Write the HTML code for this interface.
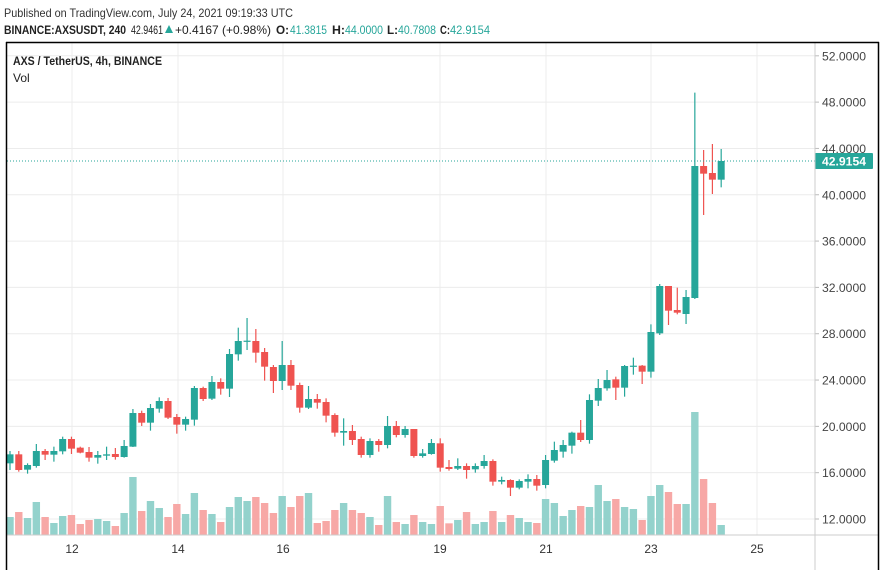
<!DOCTYPE html>
<html><head><meta charset="utf-8"><style>
html,body{margin:0;padding:0;background:#fff;width:886px;height:570px;overflow:hidden}
svg{display:block;font-family:"Liberation Sans",sans-serif}
</style></head><body>
<svg id="s" width="886" height="570" xmlns="http://www.w3.org/2000/svg">
<rect width="886" height="570" fill="#fff"/>
<text x="4" y="17" font-size="12" fill="#333" textLength="289" lengthAdjust="spacingAndGlyphs">Published on TradingView.com, July 24, 2021 09:19:33 UTC</text>
<text x="4" y="34" font-size="12" font-weight="bold" fill="#222" textLength="122" lengthAdjust="spacingAndGlyphs">BINANCE:AXSUSDT, 240</text>
<text x="131" y="34" font-size="12" fill="#222" textLength="32" lengthAdjust="spacingAndGlyphs">42.9461</text>
<polygon points="165,33 173,33 169,25" fill="#26a69a"/>
<text x="175" y="34" font-size="12" fill="#222" textLength="96" lengthAdjust="spacingAndGlyphs">+0.4167 (+0.98%)</text>
<text x="276" y="34" font-size="12" font-weight="bold" fill="#222" textLength="13" lengthAdjust="spacingAndGlyphs">O:</text>
<text x="290" y="34" font-size="12" fill="#26a69a" textLength="37" lengthAdjust="spacingAndGlyphs">41.3815</text>
<text x="332" y="34" font-size="12" font-weight="bold" fill="#222" textLength="13" lengthAdjust="spacingAndGlyphs">H:</text>
<text x="345" y="34" font-size="12" fill="#26a69a" textLength="38" lengthAdjust="spacingAndGlyphs">44.0000</text>
<text x="387" y="34" font-size="12" font-weight="bold" fill="#222" textLength="11" lengthAdjust="spacingAndGlyphs">L:</text>
<text x="398" y="34" font-size="12" fill="#26a69a" textLength="38" lengthAdjust="spacingAndGlyphs">40.7808</text>
<text x="440" y="34" font-size="12" font-weight="bold" fill="#222" textLength="10" lengthAdjust="spacingAndGlyphs">C:</text>
<text x="450" y="34" font-size="12" fill="#26a69a" textLength="40" lengthAdjust="spacingAndGlyphs">42.9154</text>
<g id="g"></g>
</svg>
<script>
var s=document.getElementById('g'),h='';
function py(p){return 519-(p-12)*11.58;}
// grid
for(var p=12;p<=52;p+=4){var y=py(p);h+='<line x1="7" x2="815" y1="'+y+'" y2="'+y+'" stroke="#ececec"/>';
h+='<line x1="815" x2="819" y1="'+y+'" y2="'+y+'" stroke="#bbb"/>';
h+='<text x="822" y="'+(y+4.5)+'" font-size="12" fill="#444" textLength="44" lengthAdjust="spacingAndGlyphs">'+p.toFixed(4).padStart(7,'0').replace(/^0/,'')+'</text>';}
var days=[[72,'12'],[178,'14'],[283,'16'],[440,'19'],[546,'21'],[651,'23'],[757,'25']];
days.forEach(function(d){h+='<line x1="'+d[0]+'" x2="'+d[0]+'" y1="43" y2="535" stroke="#ececec"/>';
h+='<text x="'+d[0]+'" y="553" font-size="12" fill="#333" text-anchor="middle">'+d[1]+'</text>';});
var A=[['g',403,430,393,450],['r',403,450,393,455],['g',435,449,430,461],['g',393,438,372,443],['r',393,404,387,420],['g',393,404,380,425],['g',357,394,350,403],['r',357,386,350,402],['r',383,398,380,400],['r',396,413,381,425],['g',405,413,393,431],['g',403,407,380,420],['r',402,411,384,419],['g',378,411,360,413],['g',279,380,267,381],['r',279,308,272,318],['g',264,308,252,332],['g',243,266,232,278],['r',243,293,234,297],['r',291,314,282,341],['g',297,314,290,332],['g',204,299,198,317],['r',204,237,200,243],['g',186,236,168,240],['r',186,206,175,224],['g',102,206,87,231],['g',63,103,23,122],['g',62,65,-6,90],['r',63,98,27,128],['r',96,140,84,182],['r',141,183,135,219],['g',135,183,63,210],['r',135,197,120,210],['r',195,263,188,278],['g',237,263,198,267],['r',237,248,222,266],['r',246,287,235,307],['r',285,338,280,350],['g',333,338,295,377],['r',333,360,315,375],['r',357,405,350,413],['g',363,405,355,413],['r',363,375,357,395],['g',318,375,288,385],['r',318,345,303,352],['g',327,345,318,353],['r',327,408,327,413],['g',400,408,387,413],['g',369,402,357,404]];
var B=[['r',1090,1163,1075,1175],['r',1161,1167,1140,1172],['g',1158,1166,1135,1170],['r',1158,1170,1150,1196],['g',1158,1168,1150,1178],['g',1143,1158,1125,1166],['r',1143,1205,1138,1217],['g',1200,1205,1190,1213],['r',1200,1223,1198,1248],['g',1203,1223,1198,1228],['g',1197,1205,1183,1225],['r',1197,1217,1185,1232],['g',1140,1215,1125,1225],['g',1110,1142,1085,1148],['g',1095,1115,1080,1133],['g',1058,1097,1055,1121],['r',1058,1080,1020,1086],['g',960,1080,943,1091],['g',924,962,897,978],['g',900,925,870,932],['r',898,923,890,960],['g',858,923,855,950],['g',857,860,833,884],['r',857,875,855,912],['g',756,875,733,893],['g',618,760,612,765],['r',618,692,618,735],['r',690,698,623,703],['g',651,702,630,732],['g',258,654,38,657],['r',258,281,210,405],['r',279,299,192,342],['g',243,299,207,322]];
var VA=[591,576,594,546,591,609,588,585,612,600,597,603,618,579,471,573,543,564,591,552,582,519,570,582,606,561,531,543,531,549,579,528,561,528,519,609,603,570,549,570,579,591,615,528,606,612,585,606,612];
var VB=[1278,1330,1320,1296,1332,1326,1293,1326,1305,1314,1326,1329,1257,1269,1308,1290,1278,1281,1215,1263,1257,1281,1287,1320,1248,1215,1236,1272,1272,996,1197,1269,1335];
var C=[];
A.forEach(function(c,i){C.push([c[0],320+c[1]/3,320+c[2]/3,320+c[3]/3,320+c[4]/3,320+VA[i]/3]);});
B.forEach(function(c,i){C.push([c[0],80+c[1]/3,80+c[2]/3,80+c[3]/3,80+c[4]/3,80+VB[i]/3]);});
C.forEach(function(c,i){var x=10+i*8.78,col=c[0]=='g'?'#26a69a':'#ef5350',vc=c[0]=='g'?'#93d2cc':'#f7a8a6';
h+='<rect x="'+(x-3.7)+'" y="'+c[5]+'" width="7.4" height="'+(535-c[5])+'" fill="'+vc+'"/>';});
C.forEach(function(c,i){var x=10+i*8.78,col=c[0]=='g'?'#26a69a':'#ef5350';
h+='<line x1="'+x+'" x2="'+x+'" y1="'+c[3]+'" y2="'+c[4]+'" stroke="'+col+'" stroke-width="1.2"/>';
h+='<rect x="'+(x-3.5)+'" y="'+c[1]+'" width="7" height="'+Math.max(1.2,c[2]-c[1])+'" fill="'+col+'"/>';});
h+='<line x1="7" x2="815" y1="161" y2="161" stroke="#26a69a" stroke-dasharray="1,2"/>';
h+='<rect x="815" y="153" width="58" height="16" rx="1" fill="#26a69a"/><text x="822" y="165.5" font-size="12" font-weight="bold" fill="#fff" textLength="44" lengthAdjust="spacingAndGlyphs">42.9154</text>';
h+='<line x1="815" x2="815" y1="43" y2="570" stroke="#ccc"/><line x1="7" x2="879" y1="535" y2="535" stroke="#ccc"/>';
h+='<line x1="6.5" x2="6.5" y1="42" y2="570" stroke="#000" stroke-width="1.5"/><line x1="6" x2="879" y1="42.5" y2="42.5" stroke="#000" stroke-width="1.5"/><line x1="878.5" x2="878.5" y1="42" y2="570" stroke="#000" stroke-width="1.5"/>';
h+='<text x="13" y="65" font-size="12" font-weight="bold" fill="#222" textLength="149" lengthAdjust="spacingAndGlyphs">AXS / TetherUS, 4h, BINANCE</text><text x="13" y="82" font-size="12" fill="#222">Vol</text>';
s.innerHTML=h;
</script>
</body></html>
